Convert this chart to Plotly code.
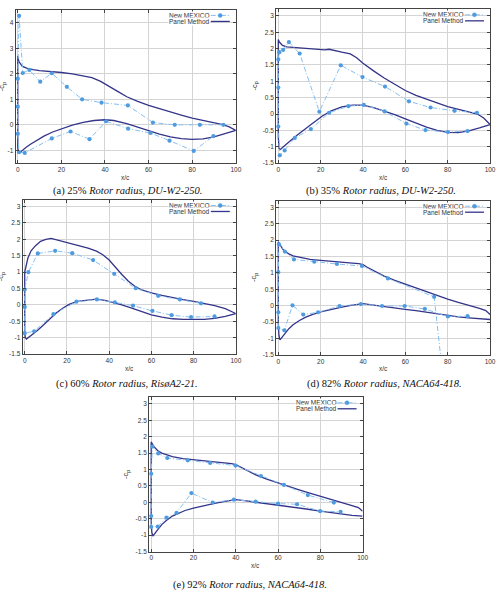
import plotly.graph_objects as go

# ---------------- data ----------------
X_TICKS = [0, 20, 40, 60, 80, 100]
Y_TICKS_A = [-1, 0, 1, 2, 3, 4]
Y_TICKS = [-1.5, -1, -0.5, 0, 0.5, 1, 1.5, 2, 2.5, 3]

CAPTIONS = [
    "(a) 25% <i>Rotor radius, DU-W2-250.</i>",
    "(b) 35% <i>Rotor radius, DU-W2-250.</i>",
    "(c) 60% <i>Rotor radius, RisøA2-21.</i>",
    "(d) 82% <i>Rotor radius, NACA64-418.</i>",
    "(e) 92% <i>Rotor radius, NACA64-418.</i>",
]
LEG_EXP = "New MEXICO"
LEG_PAN = "Panel Method"

# (a) 25%
A_PU_X = [0, 0.3, 0.6, 1, 2, 4, 7, 10, 15, 20, 25, 30, 34, 38, 42, 46, 50, 55, 60, 65, 70, 75, 80, 85, 90, 94, 97, 100]
A_PU_CP = [2.7, 2.55, 2.47, 2.4, 2.3, 2.22, 2.16, 2.12, 2.08, 2.05, 2.0, 1.93, 1.85, 1.7, 1.5, 1.3, 1.1, 0.92, 0.76, 0.62, 0.5, 0.38, 0.26, 0.16, 0.08, 0.01, -0.08, -0.22]
A_PL_X = [0, 0.3, 1, 2, 4, 6, 9, 12, 16, 20, 25, 30, 35, 40, 44, 50, 55, 60, 65, 70, 75, 80, 85, 90, 95, 98, 100]
A_PL_CP = [-0.9, -1.08, -1.08, -1.0, -0.87, -0.75, -0.58, -0.44, -0.28, -0.15, -0.01, 0.1, 0.17, 0.2, 0.17, 0.05, -0.09, -0.23, -0.36, -0.47, -0.54, -0.57, -0.55, -0.47, -0.35, -0.27, -0.22]
A_EX = [94.3, 83.5, 72, 62, 50.5, 38.4, 29.5, 22.5, 15.6, 10.3, 5.3, 2.3, 0.6, 0, 0, 0, 0.6, 3.2, 15.6, 24.2, 32.9, 40.5, 50.6, 60.9, 69.6, 80.7, 89.7]
A_ECP = [0, 0, 0, 0.09, 0.76, 0.87, 1.0, 1.49, 2.02, 1.69, 2.15, 2.03, 4.27, 1.81, 0.71, -0.35, -1.07, -1.1, -0.53, -0.26, -0.56, 0.14, -0.15, -0.32, -0.62, -1.02, -0.44]

# (b) 35%
B_PU_X = [0, 0.5, 1, 2, 4, 8, 12, 16, 20, 22, 24, 26, 30, 34, 37, 40, 45, 50, 55, 60, 65, 70, 75, 80, 85, 90, 94, 97, 100]
B_PU_CP = [2.28, 2.2, 2.15, 2.1, 2.05, 2.01, 2.0, 1.98, 1.97, 1.96, 1.98, 1.95, 1.89, 1.84, 1.72, 1.55, 1.32, 1.1, 0.9, 0.72, 0.57, 0.45, 0.34, 0.23, 0.14, 0.06, 0.0, -0.12, -0.32]
B_PL_X = [0, 0.4, 1, 2, 4, 6, 9, 12, 15, 18, 21, 25, 30, 35, 40, 45, 50, 55, 60, 65, 70, 75, 80, 85, 90, 95, 100]
B_PL_CP = [-0.7, -1.05, -1.08, -1.02, -0.92, -0.8, -0.64, -0.48, -0.34, -0.2, -0.05, 0.1, 0.22, 0.27, 0.27, 0.2, 0.1, -0.02, -0.15, -0.28, -0.4, -0.5, -0.56, -0.57, -0.51, -0.42, -0.32]
B_EX = [93.8, 83.2, 71.9, 61.7, 50.4, 39.8, 29.5, 19.4, 10.1, 5, 2.3, 0.5, 0, 0, 0, 0.7, 3, 7.8, 15.4, 24, 33.1, 40.4, 50.2, 60.5, 69.5, 80.1, 89.4]
B_ECP = [0.04, 0.1, 0.2, 0.39, 0.84, 1.13, 1.49, 0.07, 1.85, 2.2, 1.96, 1.89, 1.67, 0.81, -0.38, -1.26, -1.11, -0.73, -0.46, 0.04, 0.24, 0.28, 0.08, -0.29, -0.49, -0.55, -0.52]

# (c) 60%
C_PU_X = [0, 0.5, 1.5, 3, 5, 7.5, 10, 12.5, 15, 18, 22, 26, 30, 34, 37, 40, 43, 46, 49, 52, 55, 60, 65, 70, 75, 80, 85, 90, 95, 100]
C_PU_CP = [1.0, 1.2, 1.43, 1.65, 1.8, 1.94, 2.0, 2.03, 2.01, 1.95, 1.87, 1.8, 1.73, 1.64, 1.53, 1.37, 1.15, 0.93, 0.73, 0.58, 0.47, 0.37, 0.29, 0.22, 0.16, 0.11, 0.05, -0.02, -0.11, -0.26]
C_PL_X = [0, 0.3, 0.8, 2, 4, 6, 9, 12, 15, 18, 21, 25, 30, 34, 38, 42, 46, 50, 55, 60, 65, 70, 75, 80, 85, 90, 95, 100]
C_PL_CP = [-0.85, -1.0, -1.04, -0.98, -0.88, -0.78, -0.6, -0.41, -0.24, -0.1, 0.02, 0.11, 0.16, 0.18, 0.14, 0.08, 0.0, -0.08, -0.19, -0.3, -0.37, -0.42, -0.44, -0.45, -0.44, -0.41, -0.35, -0.26]
C_EX = [83.5, 73.5, 63.2, 52.6, 42.4, 32.4, 22.5, 14.4, 6.2, 1.7, 0, 0, 0, 4.5, 13.6, 24.5, 34.2, 42.7, 51.3, 60.5, 69.6, 78.8, 89.9]
C_ECP = [0.05, 0.17, 0.28, 0.51, 0.95, 1.37, 1.58, 1.65, 1.57, 1.0, 0.47, -0.06, -0.86, -0.8, -0.28, 0.1, 0.17, 0.08, -0.02, -0.18, -0.31, -0.37, -0.35]

# (d) 82%
D_PU_X = [0, 0.5, 1, 2, 3, 5, 7, 10, 15, 20, 25, 30, 35, 38, 40, 42, 45, 50, 55, 60, 65, 70, 75, 80, 85, 90, 95, 98, 100]
D_PU_CP = [1.95, 1.88, 1.82, 1.73, 1.66, 1.58, 1.52, 1.47, 1.41, 1.38, 1.35, 1.32, 1.3, 1.28, 1.25, 1.17, 1.06, 0.9, 0.77, 0.65, 0.54, 0.43, 0.31, 0.2, 0.1, 0.0, -0.08, -0.15, -0.27]
D_PL_X = [0, 0.3, 0.8, 1.5, 3, 5, 7, 10, 13, 16, 20, 25, 30, 35, 40, 45, 50, 55, 60, 65, 70, 75, 80, 85, 90, 95, 100]
D_PL_CP = [-0.5, -0.9, -1.04, -0.98, -0.85, -0.7, -0.58, -0.45, -0.35, -0.27, -0.19, -0.11, -0.04, 0.02, 0.06, 0.02, -0.03, -0.07, -0.11, -0.15, -0.2, -0.25, -0.3, -0.34, -0.37, -0.4, -0.42]
D_EX = [80, 73.6, 51.8, 39.5, 27.7, 17, 7.4, 3.1, 0.3, 0, 0, 0, 2.9, 6.7, 11.8, 18.8, 28.9, 39, 49, 59.7, 69.2, 80.1, 89.4]
D_ECP = [-3.5, 0.27, 0.83, 1.21, 1.27, 1.34, 1.41, 1.65, 1.87, 1.02, -0.2, -0.68, -0.75, 0.01, -0.27, -0.2, -0.01, 0.05, -0.01, -0.01, -0.1, -0.33, -0.32]

# (e) 92%
E_PU_X = [0, 0.5, 1, 2, 3, 5, 7, 10, 15, 20, 25, 30, 35, 38, 40, 42, 45, 50, 55, 60, 65, 70, 75, 80, 85, 90, 95, 98, 100]
E_PU_CP = [1.84, 1.78, 1.72, 1.64, 1.58, 1.5, 1.45, 1.39, 1.33, 1.29, 1.26, 1.23, 1.2, 1.18, 1.15, 1.08, 0.98, 0.82, 0.7, 0.59, 0.48, 0.38, 0.28, 0.18, 0.08, -0.01, -0.1, -0.16, -0.27]
E_PL_X = [0, 0.3, 0.8, 1.5, 3, 5, 7, 10, 13, 16, 20, 25, 30, 35, 40, 45, 50, 55, 60, 65, 70, 75, 80, 85, 90, 95, 100]
E_PL_CP = [-0.6, -0.92, -1.03, -0.98, -0.84, -0.68, -0.56, -0.42, -0.33, -0.25, -0.18, -0.1, -0.03, 0.03, 0.08, 0.04, 0.0, -0.04, -0.08, -0.13, -0.18, -0.22, -0.27, -0.32, -0.36, -0.4, -0.42]
E_EX = [86.4, 74.1, 62.8, 51.9, 39.9, 27.9, 17.3, 7.6, 3.3, 0.6, 0, 0, 0, 3.1, 7.2, 12, 19, 29.1, 39.1, 49.4, 60, 69, 79.9, 89.6]
E_ECP = [-0.01, 0.22, 0.53, 0.8, 1.12, 1.2, 1.28, 1.35, 1.49, 1.7, 0.87, -0.42, -0.75, -0.74, -0.47, -0.32, 0.28, -0.01, 0.08, 0.02, -0.04, -0.06, -0.27, -0.29]

# ---------------- styling / layout ----------------
W, H = 501, 598
PAN_COLOR = "#34348a"
EXP_LINE = "#86bff0"
EXP_MARK = "#4f9be0"
GRID = "#d4d4d4"
FRAME = "#444444"
SANS = "Liberation Sans, Arial, sans-serif"
TICKFONT = dict(family=SANS, size=6.5, color="#333333")
CAPFONT = dict(family="Liberation Serif, Times New Roman, serif", size=10.5, color="#111111")

X_DOM = [(0.0315, 0.4764), (0.5579, 0.990), (0.0457, 0.4764), (0.5579, 0.990), (0.3012, 0.7325)]
Y_DOM = [(0.7258, 0.9833), (0.7258, 0.9843), (0.4047, 0.6639), (0.4035, 0.6627), (0.0731, 0.3323)]
Y_RANGE = [(-1.5, 4.5), (-1.5, 3.2), (-1.5, 3.2), (-1.5, 3.2), (-1.5, 3.2)]
YLAB_SHIFT = [-14, -21, -21.5, -22, -22.5]
CAP_POS = [(129.3, 191.7), (385.3, 191.7), (129.0, 385.7), (389.5, 385.7), (252.8, 587.7)]

PANELS = [
    (A_PU_X, A_PU_CP, A_PL_X, A_PL_CP, A_EX, A_ECP, Y_TICKS_A),
    (B_PU_X, B_PU_CP, B_PL_X, B_PL_CP, B_EX, B_ECP, Y_TICKS),
    (C_PU_X, C_PU_CP, C_PL_X, C_PL_CP, C_EX, C_ECP, Y_TICKS),
    (D_PU_X, D_PU_CP, D_PL_X, D_PL_CP, D_EX, D_ECP, Y_TICKS),
    (E_PU_X, E_PU_CP, E_PL_X, E_PL_CP, E_EX, E_ECP, Y_TICKS),
]


def fmt(v):
    return "%g" % v


fig = go.Figure()
shapes = []
annotations = []
layout = {}

for i, (pux, pucp, plx, plcp, ex, ecp, yt) in enumerate(PANELS):
    sfx = "" if i == 0 else str(i + 1)
    xa, ya = "x" + sfx, "y" + sfx
    xd, yd = xa + " domain", ya + " domain"

    # panel method loop: upper surface TE -> LE, then lower LE -> TE
    loop_x = list(reversed(pux)) + list(plx)
    loop_cp = list(reversed(pucp)) + list(plcp)
    fig.add_trace(go.Scatter(
        x=loop_x, y=loop_cp, mode="lines", xaxis=xa, yaxis=ya,
        line=dict(color=PAN_COLOR, width=1.3), showlegend=False, hoverinfo="skip"))
    fig.add_trace(go.Scatter(
        x=ex, y=ecp, mode="lines+markers", xaxis=xa, yaxis=ya,
        line=dict(color=EXP_LINE, width=1, dash="5px,2px,1px,2px"),
        marker=dict(color=EXP_MARK, size=4.2, symbol="circle"),
        showlegend=False, hoverinfo="skip"))

    layout["xaxis" + sfx] = dict(
        domain=list(X_DOM[i]), anchor=ya, range=[-1, 100],
        tickvals=X_TICKS, ticktext=[fmt(v) for v in X_TICKS],
        showgrid=True, gridcolor=GRID, gridwidth=1, zeroline=False,
        showline=True, linecolor=FRAME, linewidth=1, mirror="allticks",
        ticks="inside", ticklen=3, tickcolor=FRAME, tickfont=TICKFONT)
    layout["yaxis" + sfx] = dict(
        domain=list(Y_DOM[i]), anchor=xa, range=list(Y_RANGE[i]),
        tickvals=yt, ticktext=[fmt(v) for v in yt],
        showgrid=True, gridcolor=GRID, gridwidth=1, zeroline=False,
        showline=True, linecolor=FRAME, linewidth=1, mirror="allticks",
        ticks="inside", ticklen=3, tickcolor=FRAME, tickfont=TICKFONT)

    # axis labels
    annotations.append(dict(text="x/c", xref=xd, yref=yd, x=0.5, y=0, yshift=-14,
                            xanchor="center", yanchor="middle", showarrow=False, font=TICKFONT))
    annotations.append(dict(text="-c<sub>p</sub>", xref=xd, yref=yd, x=0, y=0.5,
                            xshift=YLAB_SHIFT[i], textangle=-90, xanchor="center",
                            yanchor="middle", showarrow=False,
                            font=dict(family=SANS, size=7.5, color="#333333")))

    # legend (gnuplot style: text then sample)
    for lab, yoff in [(LEG_EXP, -5.5), (LEG_PAN, -11.5)]:
        annotations.append(dict(text=lab, xref=xd, yref=yd, x=1, y=1, xshift=-26,
                                yshift=yoff, xanchor="right", yanchor="middle",
                                showarrow=False, font=TICKFONT, bgcolor="white",
                                borderpad=0))
    shapes.append(dict(type="line", xref=xd, yref=yd, xsizemode="pixel", ysizemode="pixel",
                       xanchor=1, yanchor=1, x0=-25, x1=-6, y0=-5.5, y1=-5.5,
                       line=dict(color=EXP_LINE, width=1, dash="5px,2px,1px,2px")))
    shapes.append(dict(type="circle", xref=xd, yref=yd, xsizemode="pixel", ysizemode="pixel",
                       xanchor=1, yanchor=1, x0=-17.6, x1=-13.6, y0=-7.5, y1=-3.5,
                       fillcolor=EXP_MARK, line=dict(color=EXP_MARK, width=0.5)))
    shapes.append(dict(type="line", xref=xd, yref=yd, xsizemode="pixel", ysizemode="pixel",
                       xanchor=1, yanchor=1, x0=-25, x1=-6, y0=-11.5, y1=-11.5,
                       line=dict(color=PAN_COLOR, width=1.3)))

    # caption
    cx, cy = CAP_POS[i]
    annotations.append(dict(text=CAPTIONS[i], xref="paper", yref="paper", x=cx / W, y=1 - cy / H,
                            xanchor="center", yanchor="middle", showarrow=False, font=CAPFONT))

fig.update_layout(
    width=W, height=H, margin=dict(l=0, r=0, t=0, b=0),
    paper_bgcolor="white", plot_bgcolor="white",
    showlegend=False, shapes=shapes, annotations=annotations, **layout)

fig.write_html("out.html")
